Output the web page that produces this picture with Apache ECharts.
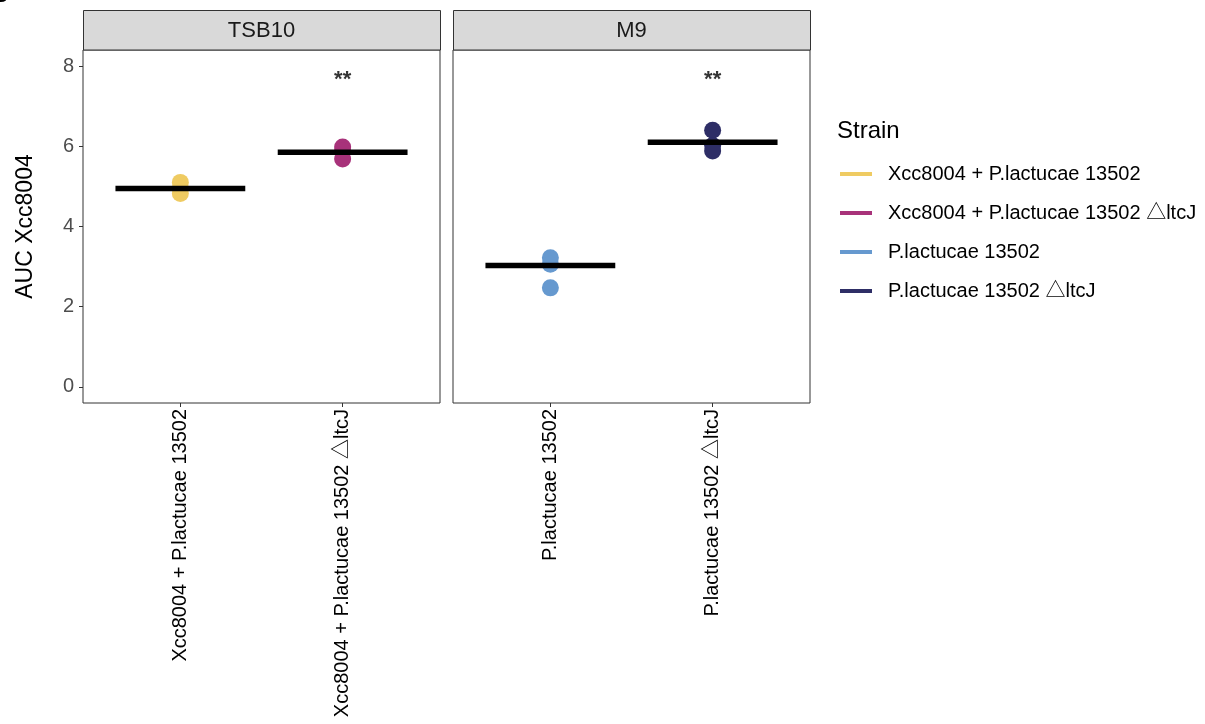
<!DOCTYPE html>
<html>
<head>
<meta charset="utf-8">
<script src="https://cdn.jsdelivr.net/npm/echarts@6/dist/echarts.min.js"></script>
<style>
  html, body { margin: 0; padding: 0; background: #fff; }
  #chart { width: 1205px; height: 724px; }
</style>
</head>
<body>
<div id="chart"></div>
<script>
// Facet panels (growth media) and strains
const panels = ['TSB10', 'M9'];
const strains = [
  'Xcc8004 + P.lactucae 13502',
  'Xcc8004 + P.lactucae 13502 \u25B3ltcJ',
  'P.lactucae 13502',
  'P.lactucae 13502 \u25B3ltcJ'
];
const strainPanel = [0, 0, 1, 1];   // which facet each strain sits in
const strainSlot = [1, 2, 1, 2];    // category position inside its facet
const strainColors = ['#EFCB62', '#A8327A', '#6699CF', '#2E2E66'];

// Replicate AUC values per strain
const aucXccPl = [5.10, 4.95, 4.82];
const aucXccPlDelta = [5.98, 5.88, 5.68];
const aucPl = [3.22, 3.06, 2.47];
const aucPlDelta = [6.40, 6.02, 5.88];
const replicates = [aucXccPl, aucXccPlDelta, aucPl, aucPlDelta];

// Group summary (horizontal bar) and significance marks
const summaryAuc = [4.95, 5.85, 3.03, 6.10];
const signif = ['', '**', '', '**'];
const signifY = 7.65;

const yTicks = [0, 2, 4, 6, 8];
const yTitle = 'AUC Xcc8004';
const legendTitle = 'Strain';

const FONT = '"Liberation Sans", "Noto Sans CJK JP", Arial, Helvetica, sans-serif';
const HALF = 0.4; // half-width of the summary bar in category units

const grid = { top: 50, height: 353, width: 357 };
const gridLefts = [83, 453];

const xAxes = panels.map((p, i) => {
  const names = strains.filter((s, k) => strainPanel[k] === i);
  return {
    type: 'value', gridIndex: i, min: 0.4, max: 2.6,
    splitLine: { show: false },
    axisLine: { show: false, onZero: false },
    axisTick: { show: true, customValues: [1, 2], length: 4, lineStyle: { color: '#333', width: 1 } },
    axisLabel: {
      customValues: [1, 2], rotate: 90, margin: 6,
      fontFamily: FONT, fontSize: 20, color: '#000',
      formatter: v => names[Math.round(v) - 1] || ''
    }
  };
});

const yAxes = panels.map((p, i) => ({
  type: 'value', gridIndex: i, min: -0.4, max: 8.4,
  splitLine: { show: false },
  axisLine: { show: false, onZero: false },
  axisTick: { show: i === 0, customValues: yTicks, length: 4, lineStyle: { color: '#333', width: 1 } },
  axisLabel: {
    show: i === 0, customValues: yTicks, margin: 9,
    fontFamily: FONT, fontSize: 20, color: '#4d4d4d'
  },
  name: i === 0 ? yTitle : '',
  nameLocation: 'middle', nameGap: 46, nameRotate: 90,
  nameTextStyle: { fontFamily: FONT, fontSize: 23, color: '#000' }
}));

const series = [];
strains.forEach((s, k) => {
  series.push({
    name: s, type: 'scatter',
    xAxisIndex: strainPanel[k], yAxisIndex: strainPanel[k],
    symbol: 'circle', symbolSize: 17,
    itemStyle: { color: strainColors[k], opacity: 1 },
    data: replicates[k].map(v => [strainSlot[k], v]),
    z: 2
  });
});
strains.forEach((s, k) => {
  series.push({
    name: s + ' summary', type: 'line',
    xAxisIndex: strainPanel[k], yAxisIndex: strainPanel[k],
    symbol: 'none', silent: true,
    lineStyle: { color: '#000', width: 5.5, cap: 'butt' },
    data: [[strainSlot[k] - HALF, summaryAuc[k]], [strainSlot[k] + HALF, summaryAuc[k]]],
    z: 3
  });
  if (signif[k]) {
    series.push({
      name: s + ' signif', type: 'scatter',
      xAxisIndex: strainPanel[k], yAxisIndex: strainPanel[k],
      symbolSize: 0, silent: true,
      label: {
        show: true, position: 'inside', formatter: signif[k],
        fontFamily: FONT, fontSize: 22, fontWeight: 'bold', color: '#000'
      },
      data: [[strainSlot[k], signifY]],
      z: 4
    });
  }
});

const graphics = [];
panels.forEach((p, i) => {
  graphics.push({
    type: 'rect', shape: { x: gridLefts[i] + 0.5, y: 10.5, width: grid.width, height: 39.5 },
    style: { fill: '#d9d9d9', stroke: '#333', lineWidth: 1 }, z: 10
  });
  graphics.push({
    type: 'text', x: gridLefts[i] + grid.width / 2, y: 31,
    style: { text: p, fontFamily: FONT, fontSize: 22, fill: '#1a1a1a', align: 'center', verticalAlign: 'middle' },
    z: 11
  });
});
graphics.push({
  type: 'text', x: 837, y: 131,
  style: { text: legendTitle, fontFamily: FONT, fontSize: 24, fill: '#000', verticalAlign: 'middle' }
});
graphics.push({
  type: 'text', x: -9, y: -17,
  style: { text: 'B', fontFamily: FONT, fontSize: 24, fontWeight: 'bold', fill: '#000' }
});

const option = {
  animation: false,
  backgroundColor: '#fff',
  grid: gridLefts.map(l => ({
    left: l, top: grid.top, width: grid.width, height: grid.height,
    show: true, borderColor: '#333', borderWidth: 1, backgroundColor: '#fff'
  })),
  xAxis: xAxes,
  yAxis: yAxes,
  legend: {
    orient: 'vertical', left: 835, top: 159,
    data: strains, icon: 'rect', itemWidth: 32, itemHeight: 4, itemGap: 19,
    selectedMode: false,
    textStyle: { fontFamily: FONT, fontSize: 20, color: '#000', padding: [0, 0, 0, 11], lineHeight: 20 }
  },
  graphic: graphics,
  series: series
};

const chart = echarts.init(document.getElementById('chart'), null, { renderer: 'canvas' });
chart.setOption(option);
</script>
</body>
</html>
